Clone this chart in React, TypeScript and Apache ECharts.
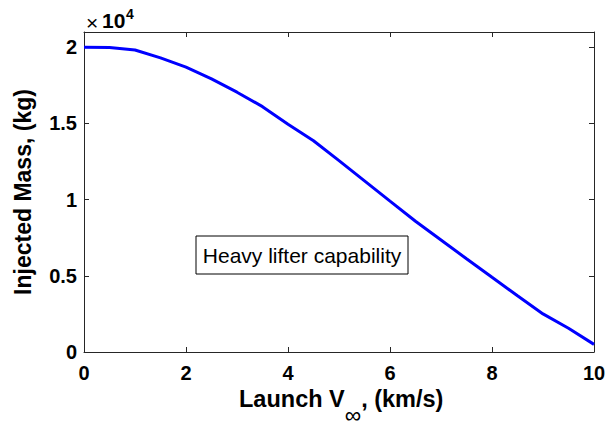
import React, { useEffect, useRef } from "react";
import * as echarts from "echarts";

const velocity = [0, 0.5, 1, 1.5, 2, 2.5, 3, 3.5, 4, 4.5, 5, 5.5, 6, 6.5, 7, 7.5, 8, 8.5, 9, 9.5, 10];
const injectedMass = [20000, 19980, 19820, 19300, 18690, 17920, 17050, 16100, 14950, 13860, 12560, 11230, 9900, 8580, 7350, 6120, 4900, 3690, 2500, 1560, 500];
const yTickLabels = ["0", "0.5", "1", "1.5", "2"];
const annotation = "Heavy lifter capability";

const FONT = "Liberation Sans, Arial, Helvetica, sans-serif";
const AXIS_COLOR = "#262626";

export default function App() {
  const ref = useRef<HTMLDivElement>(null);
  useEffect(() => {
    if (!ref.current) return;
    const chart = echarts.init(ref.current, null, { renderer: "svg" });
    const data = velocity.map((v, i) => [v, injectedMass[i]]);
    const axisLine = { show: true, onZero: false, lineStyle: { color: AXIS_COLOR, width: 1 } };
    const axisTick = { show: true, inside: true, length: 5, lineStyle: { color: AXIS_COLOR } };
    const tickFont = { color: "#000", fontFamily: FONT, fontWeight: "bold", fontSize: 20 };
    chart.setOption({
      animation: false,
      backgroundColor: "#ffffff",
      grid: { left: 84, right: 15, top: 32, bottom: 74 },
      xAxis: [
        {
          type: "value",
          min: 0,
          max: 10,
          interval: 2,
          position: "bottom",
          axisLine,
          axisTick,
          splitLine: { show: false },
          axisLabel: { margin: 11, ...tickFont },
        },
        {
          type: "value",
          min: 0,
          max: 10,
          interval: 2,
          position: "top",
          axisLine,
          axisTick,
          splitLine: { show: false },
          axisLabel: { show: false },
        },
      ],
      yAxis: [
        {
          type: "value",
          min: 0,
          max: 21000,
          interval: 5000,
          position: "left",
          axisLine,
          axisTick,
          splitLine: { show: false },
          axisLabel: {
            margin: 7,
            ...tickFont,
            formatter: (v: number) => {
              const idx = Math.round(v / 5000);
              return v % 5000 === 0 && idx < yTickLabels.length ? yTickLabels[idx] : "";
            },
          },
          name: "Injected Mass, (kg)",
          nameLocation: "middle",
          nameRotate: 90,
          nameGap: 50,
          nameTextStyle: { color: "#000", fontFamily: FONT, fontWeight: "bold", fontSize: 23 },
        },
        {
          type: "value",
          min: 0,
          max: 21000,
          interval: 5000,
          position: "right",
          axisLine,
          axisTick,
          splitLine: { show: false },
          axisLabel: { show: false },
        },
      ],
      series: [
        {
          type: "line",
          data,
          showSymbol: false,
          smooth: false,
          lineStyle: { color: "#0000ff", width: 3 },
          itemStyle: { color: "#0000ff" },
        },
      ],
      graphic: [
        {
          type: "group",
          x: 0,
          y: 0,
          children: [
            {
              type: "text",
              x: 86,
              y: 22,
              style: { text: "×", fontFamily: FONT, fontSize: 21, fill: "#000", verticalAlign: "middle", align: "left" },
            },
            {
              type: "text",
              x: 102,
              y: 20.5,
              style: { text: "10", fontFamily: FONT, fontSize: 21, fontWeight: "bold", fill: "#000", verticalAlign: "middle", align: "left" },
            },
            {
              type: "text",
              x: 126,
              y: 14,
              style: { text: "4", fontFamily: FONT, fontSize: 14, fontWeight: "bold", fill: "#000", verticalAlign: "middle", align: "left" },
            },
          ],
        },
        {
          type: "text",
          x: 239,
          y: 387,
          style: {
            text: "{a|Launch V}{s|∞}{a|, (km/s)}",
            rich: {
              a: { fontFamily: FONT, fontSize: 23.5, fontWeight: "bold", fill: "#000", lineHeight: 27, verticalAlign: "top" },
              s: { fontFamily: FONT, fontSize: 23, fill: "#000", lineHeight: 27, verticalAlign: "top", padding: [16, 0, 0, 0] },
            },
          },
        },
        {
          type: "group",
          x: 196,
          y: 236,
          children: [
            {
              type: "rect",
              shape: { x: 0, y: 0, width: 212, height: 38 },
              style: { fill: "#ffffff", stroke: "#000000", lineWidth: 1 },
            },
            {
              type: "text",
              x: 106,
              y: 19,
              style: {
                text: annotation,
                fontFamily: FONT,
                fontSize: 21,
                fill: "#000",
                align: "center",
                verticalAlign: "middle",
              },
            },
          ],
        },
      ],
    });
    return () => chart.dispose();
  }, []);
  return (
    <div
      ref={ref}
      style={{ position: "fixed", left: 0, top: 0, width: 609, height: 426, background: "#fff" }}
    />
  );
}
